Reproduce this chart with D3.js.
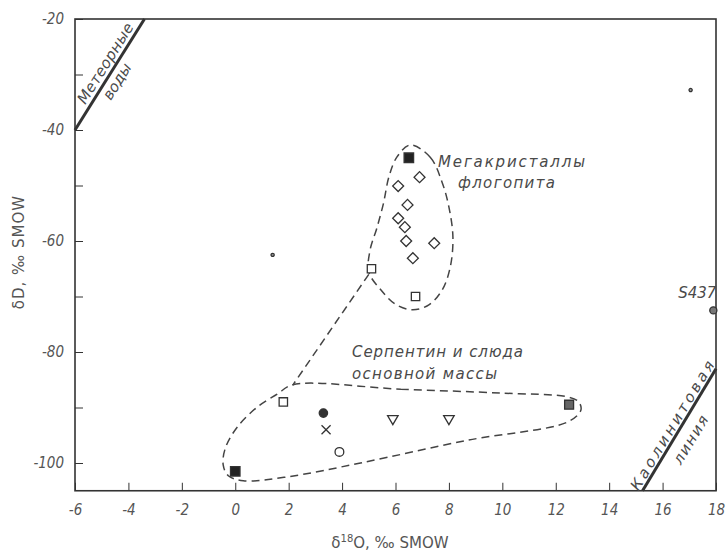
<!DOCTYPE html>
<html>
<head>
<meta charset="utf-8">
<script src="https://cdn.jsdelivr.net/npm/d3@7"></script>
<style>
  body { margin: 0; background: #fff; }
  svg { display: block; }
  .tick-label { font-family: "Liberation Sans Narrow", "DejaVu Sans Condensed", "Liberation Sans", sans-serif; font-style: italic; font-size: 15px; fill: #555; }
  .note { font-family: "DejaVu Sans", sans-serif; font-style: italic; font-size: 15px; fill: #4a4a4a; }
  .axis-title { font-family: "DejaVu Sans", sans-serif; font-size: 15px; fill: #555; }
</style>
</head>
<body>
<svg width="728" height="553"></svg>
<script>
// axis domains and ticks
var xDomain = [-6, 18],
    yDomain = [-105, -20];
var xTicks = d3.range(-6, 19, 2);
var yTicks = d3.range(-100, -19, 10);
var yLabelTicks = [-100, -80, -60, -40, -20];

// points (d18O, dD)
var filledSquares = [[6.5, -45], [0, -101.5]];
var graySquares = [[12.5, -89.5]];
var openSquares = [[5.1, -65], [6.75, -70], [1.8, -89]];
var diamonds = [[6.9, -48.5], [6.1, -50.1], [6.45, -53.5], [6.1, -55.9], [6.35, -57.5], [6.4, -60], [7.45, -60.4], [6.65, -63.1]];
var filledCircles = [[3.3, -91]];
var crosses = [[3.4, -94]];
var openCircles = [[3.9, -98]];
var triangles = [[5.9, -92], [8.0, -92]];
var s437 = [[17.9, -72.5]];
var specks = [[17.05, -32.8], [1.4, -62.5]];

// reference lines
var meteoricLine = [[-6, -40], [-3.4, -20]];
var kaoliniteLine = [[15.25, -105], [18, -83]];

// dashed outlines
var megacrystOutline = [[6.55, -42.7], [7.3, -44.9], [7.75, -49.5], [8.0, -53.9], [8.15, -59.3], [8.05, -64.7],
  [7.75, -68.8], [7.25, -71.5], [6.65, -72.4], [6.0, -71.4], [5.45, -68.8], [5.0, -65.6], [5.05, -61.6],
  [5.3, -57.7], [5.55, -53.2], [5.75, -48.5], [6.05, -44.9]];
var connector = [[5.0, -66], [2.15, -86]];
var matrixOutline = [[2.15, -85.9], [6.2, -86.7], [9.95, -87.4], [12.45, -88.1], [12.86, -89.0], [12.94, -90.5],
  [12.45, -92.6], [8.7, -95.9], [4.69, -100.0], [1.95, -102.5], [0.3, -103.2], [-0.26, -102.3], [-0.45, -100.4],
  [-0.37, -97.3], [0.08, -93.5], [0.83, -89.9], [1.57, -87.6]];

var svg = d3.select("svg");
var ink = "#333";

var x = d3.scaleLinear().domain(xDomain).range([75, 716]);
var y = d3.scaleLinear().domain(yDomain).range([490.75, 19]);

// frame
svg.append("rect")
    .attr("x", x(-6)).attr("y", y(-20))
    .attr("width", x(18) - x(-6)).attr("height", y(-105) - y(-20))
    .attr("fill", "none").attr("stroke", ink).attr("stroke-width", 1.6);

// axes, ticks pointing inward
var xAxis = svg.append("g")
    .attr("transform", "translate(0," + y(-105) + ")")
    .call(d3.axisBottom(x).tickValues(xTicks).tickSizeInner(-8).tickSizeOuter(0).tickPadding(14)
      .tickFormat(function(d) { return d; }));
xAxis.select(".domain").remove();
xAxis.selectAll("line").attr("stroke", ink).attr("stroke-width", 1);
xAxis.selectAll("text").attr("class", "tick-label").attr("fill", null);
xAxis.attr("font-size", null).attr("font-family", null);

var yAxis = svg.append("g")
    .attr("transform", "translate(" + x(-6) + ",0)")
    .call(d3.axisLeft(y).tickValues(yTicks).tickSizeInner(-8).tickSizeOuter(0).tickPadding(11)
      .tickFormat(function(d) { return yLabelTicks.indexOf(d) >= 0 ? d : ""; }));
yAxis.select(".domain").remove();
yAxis.selectAll("line").attr("stroke", ink).attr("stroke-width", 1);
yAxis.selectAll("text").attr("class", "tick-label").attr("fill", null);
yAxis.attr("font-size", null).attr("font-family", null);

// axis titles
svg.append("text").attr("class", "axis-title")
    .attr("transform", "translate(24," + (y(-62)) + ") rotate(-90)")
    .attr("text-anchor", "middle")
    .attr("font-size", 17)
    .attr("letter-spacing", 1)
    .text("δD, ‰ SMOW");

var xt = svg.append("text").attr("class", "axis-title")
    .attr("x", 390).attr("y", 548).attr("text-anchor", "middle");
xt.append("tspan").text("δ");
xt.append("tspan").attr("dy", -6).attr("font-size", 10).text("18");
xt.append("tspan").attr("dy", 6).text("O, ‰ SMOW");

var lineGen = d3.line().x(function(d) { return x(d[0]); }).y(function(d) { return y(d[1]); });

// meteoric and kaolinite lines
svg.append("path").attr("d", lineGen(meteoricLine))
    .attr("stroke", ink).attr("stroke-width", 3).attr("fill", "none");
svg.append("path").attr("d", lineGen(kaoliniteLine))
    .attr("stroke", ink).attr("stroke-width", 3).attr("fill", "none");

// labels that run along a line
function alongLine(line, t, dy, label, len) {
  var p0 = [x(line[0][0]), y(line[0][1])],
      p1 = [x(line[1][0]), y(line[1][1])];
  var px = p0[0] + (p1[0] - p0[0]) * t,
      py = p0[1] + (p1[1] - p0[1]) * t;
  var ang = Math.atan2(p1[1] - p0[1], p1[0] - p0[0]) * 180 / Math.PI;
  svg.append("text").attr("class", "note")
      .attr("transform", "translate(" + px + "," + py + ") rotate(" + ang + ")")
      .attr("text-anchor", "middle")
      .attr("dy", dy)
      .attr("textLength", len)
      .text(label);
}
alongLine(meteoricLine, 0.555, -4.5, "Метеорные", 92);
alongLine(meteoricLine, 0.485, 15, "воды", 40);
alongLine(kaoliniteLine, 0.5, -3, "Каолинитовая", 148);
alongLine(kaoliniteLine, 0.48, 20, "линия", 54);

// dashed outlines
var smoothOutline = d3.line().x(function(d) { return x(d[0]); }).y(function(d) { return y(d[1]); })
    .curve(d3.curveCatmullRomClosed.alpha(0.5));
[megacrystOutline, matrixOutline].forEach(function(o) {
  svg.append("path").attr("d", smoothOutline(o))
      .attr("fill", "none").attr("stroke", "#444").attr("stroke-width", 1.5).attr("stroke-dasharray", "8,5");
});
svg.append("path").attr("d", lineGen(connector))
    .attr("fill", "none").attr("stroke", "#444").attr("stroke-width", 1.5).attr("stroke-dasharray", "8,5");

// group labels
var notes = [
  { text: "Мегакристаллы", x: 438, y: 167, len: 147 },
  { text: "флогопита", x: 458, y: 188, len: 97 },
  { text: "Серпентин и слюда", x: 352, y: 357, len: 171 },
  { text: "основной массы", x: 352, y: 379, len: 145 }
];
svg.selectAll(".grp").data(notes).enter().append("text")
    .attr("class", "note")
    .attr("x", function(d) { return d.x; })
    .attr("y", function(d) { return d.y; })
    .attr("textLength", function(d) { return d.len; })
    .text(function(d) { return d.text; });

// markers
function marks(data, type, size, fill, rot) {
  svg.append("g").selectAll("path").data(data).enter().append("path")
      .attr("d", d3.symbol().type(type).size(size))
      .attr("transform", function(d) { return "translate(" + x(d[0]) + "," + y(d[1]) + ") rotate(" + (rot || 0) + ")"; })
      .attr("fill", fill)
      .attr("stroke", ink)
      .attr("stroke-width", 1.3);
}
marks(filledSquares, d3.symbolSquare, 90, "#222");
marks(graySquares, d3.symbolSquare, 80, "#666");
marks(openSquares, d3.symbolSquare, 70, "#fff");
marks(diamonds, d3.symbolSquare, 60, "#fff", 45);
marks(triangles, d3.symbolTriangle, 48, "#fff", 180);
marks(openCircles, d3.symbolCircle, 60, "#fff");
marks(filledCircles, d3.symbolCircle, 55, "#333");
marks(crosses, d3.symbolX || d3.symbolTimes, 55, "none");
marks(s437, d3.symbolCircle, 40, "#777");
marks(specks, d3.symbolCircle, 8, "#999");

// S437 label
svg.append("text").attr("class", "note")
    .attr("x", x(s437[0][0]) + 3).attr("y", y(s437[0][1]) - 12)
    .attr("text-anchor", "end")
    .text("S437");
</script>
</body>
</html>
